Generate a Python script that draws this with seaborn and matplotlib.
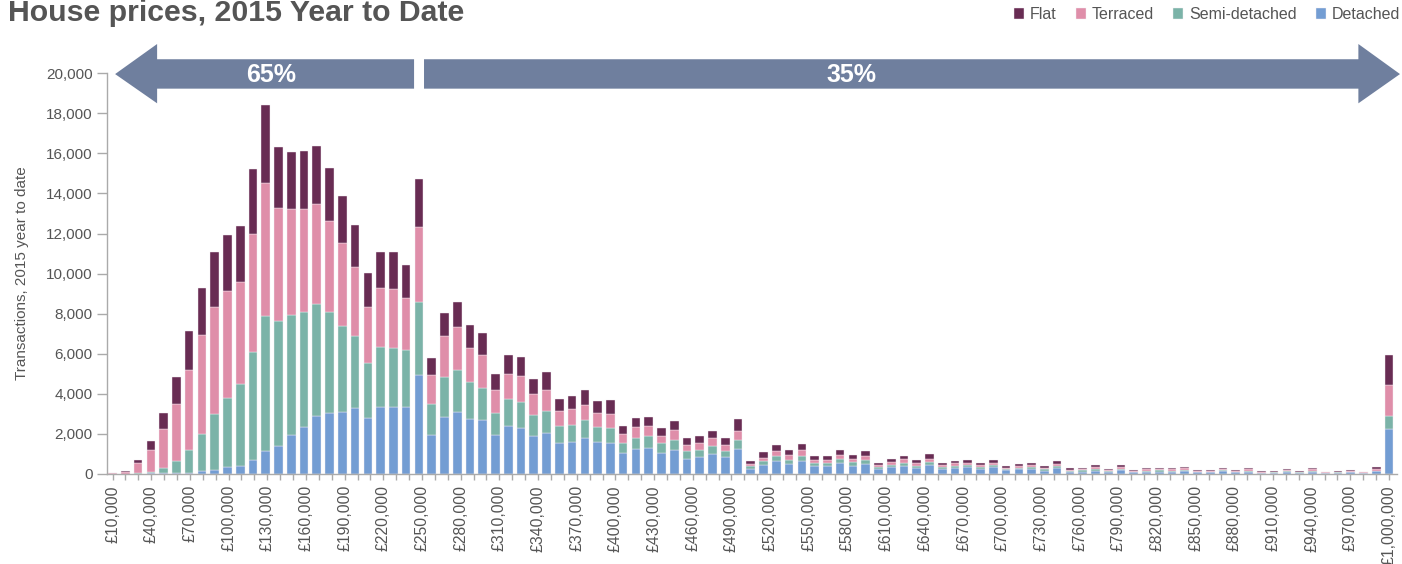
import numpy as np
import pandas as pd
import matplotlib
matplotlib.use("Agg")
import matplotlib.pyplot as plt
from matplotlib.patches import Polygon
from matplotlib.ticker import FuncFormatter
from matplotlib.transforms import blended_transform_factory
import seaborn as sns

# transactions per £10k price band, band 0 = £10,000 ... band 100 = £1,000,000
flat = [10, 40, 170, 432, 798, 1330, 1962, 2328, 2744, 2794,
        2810, 3226, 3891, 3043, 2877, 2877, 2927, 2644, 2312, 2129,
        1680, 1763, 1846, 1646, 2411, 848, 1164, 1264, 1131, 1098,
        782, 965, 948, 765, 898, 615, 665, 732, 632, 698,
        432, 466, 482, 416, 449, 349, 366, 382, 349, 582,
        120, 283, 316, 249, 316, 200, 183, 233, 183, 266,
        133, 150, 166, 150, 249, 100, 133, 133, 100, 133,
        83, 83, 100, 100, 116, 60, 66, 120, 60, 120,
        45, 66, 66, 60, 80, 45, 40, 66, 45, 70,
        30, 30, 55, 30, 66, 25, 30, 45, 25, 90,
        1497]
terraced = [30, 80, 500, 1098, 1962, 2827, 3975, 4939, 5338, 5355,
            5089, 5870, 6635, 5621, 5288, 5155, 4989, 4523, 4158, 3442,
            2794, 2944, 2960, 2611, 3708, 1447, 2012, 2162, 1730, 1663,
            1147, 1264, 1330, 1031, 1064, 748, 798, 765, 698, 715,
            449, 532, 482, 366, 516, 333, 316, 399, 299, 466,
            110, 166, 249, 233, 283, 133, 166, 200, 150, 183,
            100, 133, 166, 133, 183, 100, 133, 116, 100, 116,
            66, 83, 100, 83, 116, 60, 80, 100, 50, 83,
            45, 60, 66, 60, 66, 45, 50, 66, 45, 60,
            35, 40, 60, 40, 60, 30, 40, 50, 30, 100,
            1580]
semi = [5, 5, 30, 83, 266, 599, 1147, 1879, 2810, 3459,
        4091, 5405, 6768, 6236, 5970, 5754, 5571, 5056, 4291, 3575,
        2761, 3027, 2944, 2844, 3675, 1547, 1996, 2095, 1846, 1596,
        1131, 1347, 1297, 1064, 1114, 832, 815, 898, 748, 748,
        499, 565, 599, 499, 516, 399, 366, 399, 333, 466,
        140, 200, 249, 200, 283, 183, 166, 200, 216, 200,
        83, 116, 150, 100, 133, 100, 100, 100, 83, 116,
        50, 83, 100, 66, 100, 45, 60, 66, 45, 66,
        33, 50, 55, 50, 66, 33, 33, 50, 33, 50,
        25, 30, 45, 30, 50, 20, 30, 33, 20, 33,
        649]
detached = [5, 5, 5, 33, 33, 67, 67, 133, 200, 333,
            382, 698, 1131, 1397, 1946, 2328, 2894, 3027, 3093, 3293,
            2794, 3326, 3326, 3326, 4922, 1946, 2860, 3077, 2727, 2677,
            1929, 2378, 2278, 1879, 2029, 1547, 1613, 1796, 1580, 1530,
            1031, 1231, 1297, 1031, 1181, 732, 848, 981, 832, 1231,
            270, 432, 632, 516, 632, 382, 382, 565, 399, 516,
            249, 349, 416, 299, 449, 249, 299, 349, 266, 333,
            183, 233, 266, 166, 299, 116, 116, 166, 100, 200,
            80, 120, 120, 120, 150, 80, 80, 130, 80, 120,
            40, 45, 100, 50, 120, 35, 45, 80, 35, 133,
            2228]

house_types = ["Flat", "Terraced", "Semi-detached", "Detached"]
type_colors = ["#682C53", "#DF8EA9", "#7BB3A8", "#739DD3"]
tick_prices = list(range(10000, 1000001, 30000))
arrow_labels = ["65%", "35%"]

grey = "#555555"
axis_grey = "#AAAAAA"
arrow_col = "#6F7F9E"

n = len(flat)
df = pd.DataFrame({"band": np.tile(np.arange(n), 4),
                   "type": np.repeat(house_types, n),
                   "count": flat + terraced + semi + detached})

sns.set_style("white")
plt.rcParams["font.family"] = ["Liberation Sans", "DejaVu Sans"]

fig = plt.figure(figsize=(14.02, 5.64), dpi=100)
ax = fig.add_axes([0.0761, 0.1596, 0.9201, 0.7105])

sns.histplot(data=df, x="band", weights="count", hue="type", hue_order=house_types,
             palette=type_colors, multiple="stack", discrete=True, shrink=0.68,
             edgecolor="#F4EEF2", linewidth=0.3, alpha=1, ax=ax)

ax.set_xlim(-0.46, 100.6)
ax.set_ylim(0, 20000)

# price axis runs linearly from £10,000 (first band) to £1,000,000 (last band)
def price_pos(p):
    return (p - 10000) / 9900

ax.set_xticks([price_pos(p) for p in tick_prices])
ax.set_xticklabels(["£{:,}".format(p) for p in tick_prices], rotation=90)
ax.set_xticks([price_pos(p) for p in range(10000, 1000001, 10000)], minor=True)
ax.set_yticks(range(0, 20001, 2000))
ax.yaxis.set_major_formatter(FuncFormatter(lambda v, p: "{:,.0f}".format(v)))

ax.tick_params(axis="x", which="both", length=4, width=1, color=axis_grey,
               labelsize=11.3, labelcolor=grey, pad=4, bottom=True)
ax.tick_params(axis="y", length=7, width=1, color=axis_grey,
               labelsize=11, labelcolor=grey, pad=3, left=True)

sns.despine(ax=ax)
for side in ["left", "bottom"]:
    ax.spines[side].set_color(axis_grey)
    ax.spines[side].set_linewidth(1)

ax.set_xlabel("")
ax.set_ylabel("Transactions, 2015 year to date", fontsize=11, color=grey)
ax.yaxis.set_label_coords(-0.0602, 0.5)

# share arrows above the bars
trans = blended_transform_factory(ax.transData, ax.transAxes)
left_arrow = [(0.2, 0.998), (3.49, 1.073), (3.49, 1.035), (23.62, 1.035),
              (23.62, 0.9616), (3.49, 0.9616), (3.49, 0.925)]
right_arrow = [(24.4, 1.035), (97.6, 1.035), (97.6, 1.073), (100.86, 0.998),
               (97.6, 0.925), (97.6, 0.9616), (24.4, 0.9616)]
for pts in [left_arrow, right_arrow]:
    ax.add_patch(Polygon(pts, closed=True, facecolor=arrow_col, edgecolor="none",
                         transform=trans, clip_on=False, zorder=5))
for xpos, lab in zip([12.4, 57.9], arrow_labels):
    ax.text(xpos, 0.9945, lab, transform=trans, ha="center", va="center",
            fontsize=18, fontweight="bold", color="white", zorder=6)

fig.text(8.3 / 1402, 1 - 20.7 / 564, "House prices, 2015 Year to Date",
         fontsize=21.8, fontweight="bold", color=grey, ha="left", va="baseline")

sns.move_legend(ax, "upper right", bbox_to_anchor=(1400 / 1402, 1 - 7 / 564),
                bbox_transform=fig.transFigure, ncol=4, title=None, frameon=False,
                fontsize=11.5, labelcolor=grey, handlelength=0.65, handleheight=0.65,
                handletextpad=0.35, columnspacing=1.2, borderaxespad=0, borderpad=0)

fig.savefig("out.png", dpi=100)
